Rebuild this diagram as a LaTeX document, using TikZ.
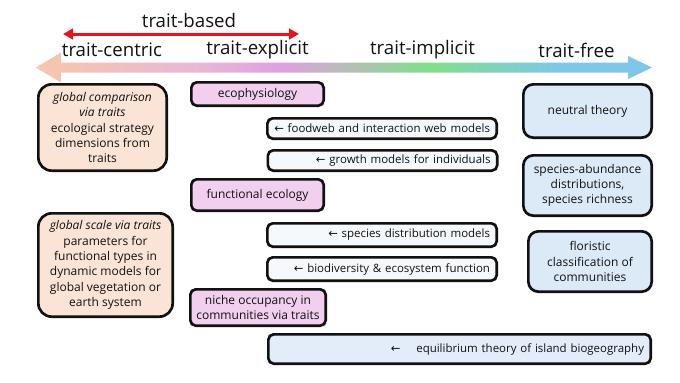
\documentclass[tikz,border=0pt]{standalone}
\usepackage{fontspec}
\setmainfont{Open Sans}
\newfontfamily\arrowfont{DejaVu Sans}
\usetikzlibrary{arrows.meta}

\definecolor{peachfill}{HTML}{FBE3D6}
\definecolor{pinkfill}{HTML}{F2CFEE}
\definecolor{bluefill}{HTML}{DCEAF7}
\definecolor{palefill}{HTML}{F6F9FB}
\definecolor{islefill}{HTML}{E3EDF9}
\definecolor{edgecol}{HTML}{111111}
\definecolor{basedred}{HTML}{E8141B}
\definecolor{axpeach}{HTML}{F5C5AF}
\definecolor{axpink}{HTML}{E9B7D7}
\definecolor{axorchid}{HTML}{DFA0E0}
\definecolor{axgray}{HTML}{BBBBBB}
\definecolor{axgreen}{HTML}{80DF8B}
\definecolor{axblue}{HTML}{7EC7E9}

\pgfdeclarehorizontalshading{traitaxis}{100bp}{color(0bp)=(axpeach); color(27bp)=(axpeach); color(38bp)=(axpink); color(45bp)=(axorchid); color(49.7bp)=(axgray); color(57bp)=(axgreen); color(67.5bp)=(axblue); color(100bp)=(axblue)}

\newcommand{\leftarr}{{\arrowfont\char"2190}}

\begin{document}
\begin{tikzpicture}[
    x=0.75pt, y=-0.75pt,
    every node/.style={font=\fontsize{9}{11.5}\selectfont, text=edgecol},
    axislabel/.style={font=\fontsize{14}{16}\selectfont},
    box/.style={draw=edgecol, line width=2pt, align=center, inner sep=3pt},
    strategybox/.style={box, fill=peachfill, rounded corners=10pt},
    explicitbox/.style={box, fill=pinkfill, rounded corners=4pt},
    implicitbox/.style={box, fill=palefill, rounded corners=4pt, align=right, inner xsep=5pt, text width=162pt,
        font=\fontsize{8.6}{11}\selectfont},
    freebox/.style={box, fill=bluefill, rounded corners=7.5pt},
    basedarrow/.style={{Triangle[length=7.5pt,width=8pt]}-{Triangle[length=7.5pt,width=8pt]}, line width=2.25pt, basedred}
]
\useasboundingbox (0,0) rectangle (680,382);

\node[axislabel] (based) at (189,20) {trait-based};
\coordinate (basedL) at (63,34);
\coordinate (basedR) at (299,34);
\draw[basedarrow] (basedL) -- (basedR);

\node[axislabel] (centric) at (112,50) {trait-centric};
\node[axislabel] (explicit) at (257.5,50) {trait-explicit};
\node[axislabel] (implicit) at (422.5,50) {trait-implicit};
\node[axislabel] (free) at (576.5,50) {trait-free};

\shade[shading=traitaxis] (36,67.5) -- (61,52.5) -- (61,62.5) -- (628,62.5) -- (628,56) -- (652,67.5)
    -- (628,79) -- (628,72.5) -- (61,72.5) -- (61,82.5) -- cycle;

\node[strategybox, minimum width=96.25pt, minimum height=64.75pt] (gcomp) at (102.5,127.5)
    {\textit{global comparison}\\\textit{via traits}\\ecological strategy\\dimensions from\\traits};
\node[strategybox, minimum width=100.75pt, minimum height=77.5pt] (gscale) at (105.5,265)
    {\textit{global scale via traits}\\parameters for\\functional types in\\dynamic models for\\global vegetation or\\earth system};

\node[explicitbox, minimum width=99.25pt, minimum height=17.5pt] (ecophys) at (257.5,94) {ecophysiology};
\node[explicitbox, minimum width=99.25pt, minimum height=23.5pt] (funceco) at (257.5,195) {functional ecology};
\node[explicitbox, minimum width=101.5pt, minimum height=27.25pt] (niche) at (258,307.5)
    {niche occupancy in\\communities via traits};

\node[implicitbox, minimum height=15.25pt] (foodweb) at (382,128.5) {\mbox{\leftarr\ foodweb and interaction web models}};
\node[implicitbox, minimum height=15.25pt] (growth) at (382.5,160.5) {\mbox{\leftarr\ growth models for individuals}};
\node[implicitbox, minimum height=17.5pt] (sdm) at (382,235) {\mbox{\leftarr\ species distribution models}};
\node[implicitbox, minimum height=17.5pt] (bef) at (382,269) {\mbox{\leftarr\ biodiversity \& ecosystem function}};
\node[implicitbox, fill=islefill, text width=276.75pt, minimum height=22pt] (island) at (459.5,349)
    {\mbox{\leftarr\hspace{9pt} equilibrium theory of island biogeography}};

\node[freebox, minimum width=96.25pt, minimum height=40pt] (neutral) at (587.5,111) {neutral theory};
\node[freebox, minimum width=96.25pt, minimum height=45.25pt] (sad) at (587.5,185.5)
    {species-abundance\\distributions,\\species richness};
\node[freebox, minimum width=92.5pt, minimum height=45.25pt] (floristic) at (590,261.5)
    {floristic\\classification of\\communities};
\end{tikzpicture}
\end{document}
